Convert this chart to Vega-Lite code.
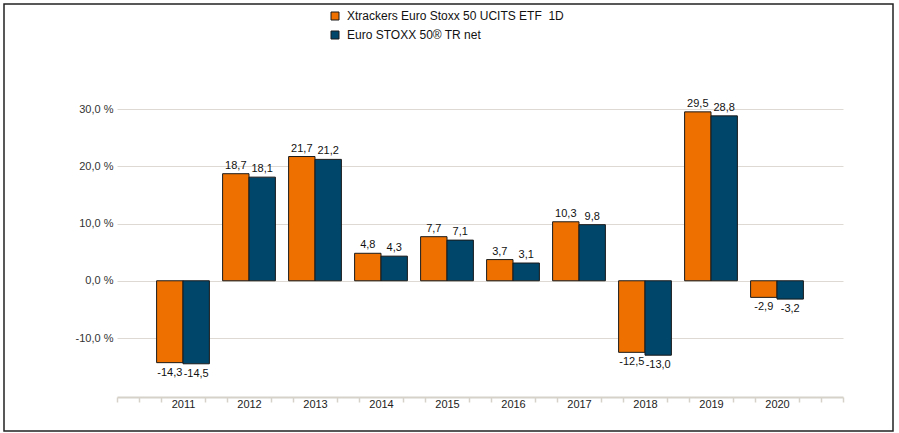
{
  "$schema": "https://vega.github.io/schema/vega-lite/v6.json",
  "width": 889,
  "height": 427,
  "autosize": {"type": "none"},
  "padding": {"left": 4, "top": 4, "right": 6, "bottom": 2},
  "background": "white",
  "data": {
    "values": [
      {"year": 2011, "series": "Xtrackers Euro Stoxx 50 UCITS ETF \u00a01D", "value": -14.3},
      {"year": 2011, "series": "Euro STOXX 50® TR net", "value": -14.5},
      {"year": 2012, "series": "Xtrackers Euro Stoxx 50 UCITS ETF \u00a01D", "value": 18.7},
      {"year": 2012, "series": "Euro STOXX 50® TR net", "value": 18.1},
      {"year": 2013, "series": "Xtrackers Euro Stoxx 50 UCITS ETF \u00a01D", "value": 21.7},
      {"year": 2013, "series": "Euro STOXX 50® TR net", "value": 21.2},
      {"year": 2014, "series": "Xtrackers Euro Stoxx 50 UCITS ETF \u00a01D", "value": 4.8},
      {"year": 2014, "series": "Euro STOXX 50® TR net", "value": 4.3},
      {"year": 2015, "series": "Xtrackers Euro Stoxx 50 UCITS ETF \u00a01D", "value": 7.7},
      {"year": 2015, "series": "Euro STOXX 50® TR net", "value": 7.1},
      {"year": 2016, "series": "Xtrackers Euro Stoxx 50 UCITS ETF \u00a01D", "value": 3.7},
      {"year": 2016, "series": "Euro STOXX 50® TR net", "value": 3.1},
      {"year": 2017, "series": "Xtrackers Euro Stoxx 50 UCITS ETF \u00a01D", "value": 10.3},
      {"year": 2017, "series": "Euro STOXX 50® TR net", "value": 9.8},
      {"year": 2018, "series": "Xtrackers Euro Stoxx 50 UCITS ETF \u00a01D", "value": -12.5},
      {"year": 2018, "series": "Euro STOXX 50® TR net", "value": -13.0},
      {"year": 2019, "series": "Xtrackers Euro Stoxx 50 UCITS ETF \u00a01D", "value": 29.5},
      {"year": 2019, "series": "Euro STOXX 50® TR net", "value": 28.8},
      {"year": 2020, "series": "Xtrackers Euro Stoxx 50 UCITS ETF \u00a01D", "value": -2.9},
      {"year": 2020, "series": "Euro STOXX 50® TR net", "value": -3.2}
    ]
  },
  "layer": [
    {
      "encoding": {
        "x": {
          "field": "year", "type": "ordinal",
          "scale": {"range": [113, 839], "paddingInner": 0.2, "paddingOuter": 0.6},
          "axis": null
        },
        "xOffset": {
          "field": "series", "type": "nominal",
          "sort": ["Xtrackers Euro Stoxx 50 UCITS ETF \u00a01D", "Euro STOXX 50® TR net"],
          "scale": {"paddingInner": 0, "paddingOuter": 0}
        },
        "y": {
          "field": "value", "type": "quantitative",
          "scale": {"domain": [-20.3, 30], "range": [393, 105], "nice": false},
          "axis": {
            "orient": "left", "offset": -113, "values": [-10, 0, 10, 20, 30],
            "labelExpr": "datum.value + ',0 %'",
            "domain": false, "ticks": false, "grid": false,
            "labelPadding": 4, "labelFontSize": 11, "labelColor": "#333333",
            "labelFont": "Liberation Sans", "title": null
          }
        }
      },
      "layer": [
        {
          "mark": {"type": "bar", "stroke": "#1a1a1a", "strokeWidth": 1},
          "encoding": {
            "color": {
              "field": "series", "type": "nominal",
              "scale": {
                "domain": ["Xtrackers Euro Stoxx 50 UCITS ETF \u00a01D", "Euro STOXX 50® TR net"],
                "range": ["#ee7100", "#00466a"]
              },
              "legend": {
                "orient": "none", "legendX": 325, "legendY": 6, "title": null,
                "symbolType": "square", "symbolSize": 64,
                "symbolStrokeColor": "#1a1a1a", "symbolStrokeWidth": 1,
                "labelFontSize": 12, "labelFont": "Liberation Sans", "labelColor": "#111111",
                "labelOffset": 6, "rowPadding": 7, "padding": 0, "labelLimit": 400
              }
            }
          }
        },
        {
          "transform": [{"filter": "datum.value >= 0"}],
          "mark": {"type": "text", "baseline": "bottom", "dy": -3, "fontSize": 11, "font": "Liberation Sans", "color": "#111111"},
          "encoding": {"text": {"field": "value", "type": "quantitative", "format": ".1f"}}
        },
        {
          "transform": [{"filter": "datum.value < 0"}],
          "mark": {"type": "text", "baseline": "top", "dy": 4, "fontSize": 11, "font": "Liberation Sans", "color": "#111111"},
          "encoding": {"text": {"field": "value", "type": "quantitative", "format": ".1f"}}
        }
      ]
    },
    {
      "mark": {"type": "point", "opacity": 0},
      "encoding": {
        "x": {
          "field": "year", "type": "quantitative",
          "scale": {"domain": [2010, 2021], "range": [113, 839], "nice": false, "zero": false},
          "axis": {
            "orient": "bottom", "offset": -34,
            "values": [2010, 2010.3333, 2010.6667, 2011, 2011.3333, 2011.6667, 2012, 2012.3333, 2012.6667, 2013, 2013.3333, 2013.6667, 2014, 2014.3333, 2014.6667, 2015, 2015.3333, 2015.6667, 2016, 2016.3333, 2016.6667, 2017, 2017.3333, 2017.6667, 2018, 2018.3333, 2018.6667, 2019, 2019.3333, 2019.6667, 2020, 2020.3333, 2020.6667, 2021],
            "labelExpr": "(datum.value % 1 == 0 && datum.value > 2010 && datum.value < 2021) ? ('' + datum.value) : ''",
            "tickSize": 5, "tickColor": "#d6d2ca", "tickWidth": 1.5,
            "tickOpacity": {"condition": {"test": "datum.value % 1 == 0 && datum.value > 2010 && datum.value < 2021", "value": 0}, "value": 1},
            "domainColor": "#d6d2ca", "domainWidth": 2,
            "labelPadding": -4, "labelFontSize": 11, "labelColor": "#222222",
            "labelFont": "Liberation Sans", "labelOverlap": false, "labelBound": false,
            "labelFlush": false, "grid": false, "title": null
          }
        },
        "y": {
          "field": "value", "type": "quantitative",
          "scale": {"domain": [-20.3, 30], "range": [393, 105], "nice": false},
          "axis": {
            "orient": "right", "offset": -50, "values": [-10, 0, 10, 20, 30],
            "labels": false, "domain": false, "grid": false, "ticks": true,
            "tickSize": -726, "tickColor": "#dedad3", "tickWidth": 1, "title": null
          }
        }
      }
    }
  ],
  "resolve": {"scale": {"x": "independent"}, "axis": {"y": "independent"}},
  "config": {
    "font": "Liberation Sans",
    "view": {"stroke": "#222222", "strokeWidth": 1.5},
    "locale": {
      "number": {"decimal": ",", "thousands": ".", "grouping": [3], "currency": ["", "€"], "minus": "-"}
    }
  }
}
